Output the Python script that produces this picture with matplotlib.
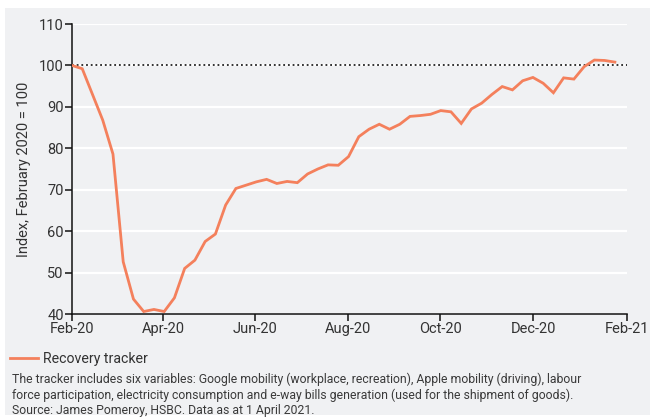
import matplotlib.pyplot as plt
import matplotlib.dates as mdates
import pandas as pd
from matplotlib.patches import Rectangle

plt.rcParams['font.family'] = ['Roboto', 'DejaVu Sans']

# Recovery tracker readings (roughly weekly, Feb 2020 - late Jan 2021)
tracker = [100.0, 99.2, 93.0, 86.8, 78.6, 52.6, 43.6, 40.6, 41.1, 40.6,
           43.9, 51.0, 53.0, 57.5, 59.3, 66.3, 70.3, 71.1, 71.9, 72.5,
           71.5, 72.0, 71.7, 73.8, 75.0, 76.0, 75.9, 78.0, 82.8, 84.6,
           85.8, 84.6, 85.8, 87.7, 87.9, 88.2, 89.1, 88.8, 86.0, 89.5,
           90.9, 93.0, 94.9, 94.1, 96.3, 97.1, 95.7, 93.4, 97.0, 96.7,
           99.7, 101.3, 101.2, 100.8]
dates = pd.date_range('2020-02-01', '2021-01-24', periods=len(tracker))

baseline = 100
y_ticks = [40, 50, 60, 70, 80, 90, 100, 110]

line_color = '#f4805c'
panel_color = '#f0f1f3'
text_color = '#333333'

fig = plt.figure(figsize=(6.52, 4.2), dpi=100)
fig.patch.set_facecolor('white')
fig.add_artist(Rectangle((5 / 652, 1 - 415 / 420), 645 / 652, 407 / 420,
                         transform=fig.transFigure, facecolor=panel_color,
                         edgecolor='none', zorder=0))

ax = fig.add_axes([72 / 652, 1 - 314 / 420, 555 / 652, 290 / 420])
ax.set_facecolor(panel_color)

for t in y_ticks:
    ax.axhline(t, color='white', lw=1.6, zorder=1)
ax.axhline(baseline, color='#222222', lw=1.3, ls=(0, (1, 1.6)), zorder=2)

ax.plot(dates, tracker, color=line_color, lw=2.0, zorder=3,
        solid_joinstyle='miter', label='Recovery tracker')

ax.set_ylim(40, 110)
ax.set_yticks(y_ticks)
ax.set_xlim(pd.Timestamp('2020-02-01'), pd.Timestamp('2021-02-01'))
ax.xaxis.set_major_locator(mdates.MonthLocator(bymonth=[2, 4, 6, 8, 10, 12]))
ax.xaxis.set_major_formatter(mdates.DateFormatter('%b-%y'))

for side in ['top', 'right']:
    ax.spines[side].set_visible(False)
for side in ['left', 'bottom']:
    ax.spines[side].set_color('#111111')
    ax.spines[side].set_linewidth(1.1)

ax.tick_params(axis='both', direction='out', length=5, width=1.1,
               color='#111111', labelsize=10.5, labelcolor=text_color, pad=1)
ax.set_ylabel('Index, February 2020 = 100', fontsize=10.5, color=text_color, labelpad=6)

leg = fig.legend(loc='upper left', bbox_to_anchor=(10 / 652, 1 - 352 / 420),
                 frameon=False, fontsize=10.2, handlelength=2.0, handletextpad=0.3,
                 labelcolor=text_color, borderaxespad=0, borderpad=0)

note = ('The tracker includes six variables: Google mobility (workplace, recreation), Apple mobility (driving), labour\n'
        'force participation, electricity consumption and e-way bills generation (used for the shipment of goods).\n'
        'Source: James Pomeroy, HSBC. Data as at 1 April 2021.')
fig.text(12 / 652, 1 - 373 / 420, note, fontsize=8.85, color='#3a3a3a',
         va='top', ha='left', linespacing=1.2)

fig.savefig('out.png', dpi=100, facecolor=fig.get_facecolor())
